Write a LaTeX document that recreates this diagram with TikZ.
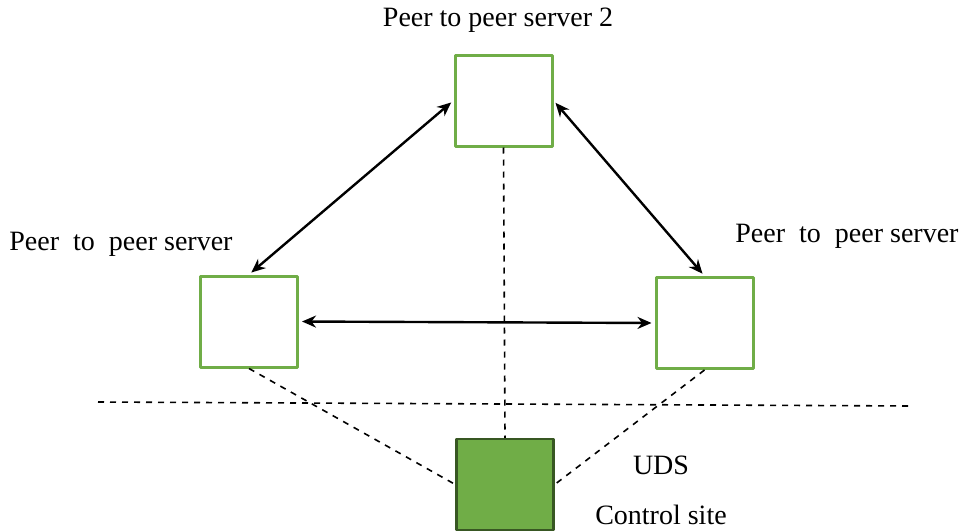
\documentclass[tikz,border=0pt]{standalone}
\usepackage{fontspec}
\setmainfont{Liberation Serif}
\usetikzlibrary{arrows.meta}
\definecolor{peergreen}{RGB}{112,173,71}
\definecolor{peerdark}{RGB}{56,87,35}
\begin{document}
\begin{tikzpicture}[x=0.5pt,y=-0.5pt,>={Stealth[length=7pt,width=6pt]}, font=\fontsize{14}{16}\selectfont, line join=round]
            \tikzset{server/.style={draw=peergreen,line width=1.5pt,fill=white,minimum width=48.5pt,minimum height=45.5pt,inner sep=0pt},
                     site/.style={server,draw=peerdark,fill=peergreen,line width=1.2pt},
                     link/.style={<->,line width=1.2pt,shorten <=1.5pt,shorten >=1.5pt},
                     wire/.style={dashed,line width=0.8pt},
                     lbl/.style={inner sep=0pt}}
            \useasboundingbox (0,0) rectangle (963,530);
            % servers
            \node[server] (p2) at (503.5,100.5) {};
            \node[server] (p1) at (249,321.5) {};
            \node[server] (p3) at (704.5,323) {};
            \node[site] (uds) at (505,484.5) {};
            % labels
            \node[lbl] (l2) at (498,20) {Peer to peer server 2};
            \node[lbl,anchor=west] (l1) at (9,244) {Peer\ \ to\ \ peer server};
            \node[lbl,anchor=west] (l3) at (735,236) {Peer\ \ to\ \ peer server};
            \node[lbl] (luds) at (661,465) {UDS};
            \node[lbl] (lcs) at (661,515) {Control site};
            % links
            \draw[link] (p2.west) -- (p1.north);
            \draw[link] (p2.east) -- (p3.north);
            \draw[link] (p1.east) -- (p3.west);
            % control lines
            \coordinate (ba) at (98,402);
            \coordinate (bb) at (912,406);
            \draw[wire] (ba) -- (bb);
            \draw[wire] (p2.south) -- (uds.north);
            \draw[wire] (p1.south) -- (uds.west);
            \draw[wire] (p3.south) -- (uds.east);
\end{tikzpicture}
\end{document}
